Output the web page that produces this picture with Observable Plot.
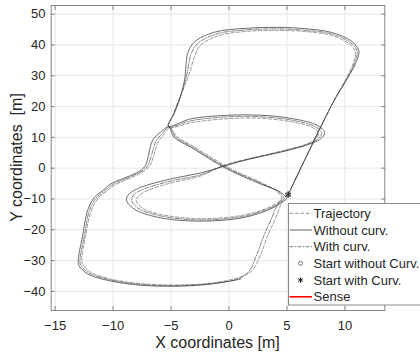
<!DOCTYPE html>
<html><head><meta charset="utf-8">
<script src="https://cdn.jsdelivr.net/npm/d3@7"></script>
<script src="https://cdn.jsdelivr.net/npm/@observablehq/plot@0.6"></script>
<style>
body{margin:0;background:#fff;}
svg{font-family:"Liberation Sans",Arial,sans-serif;}
</style>
</head><body><div id="chart"></div>
<script>
const xTicks = [-15, -10, -5, 0, 5, 10];
const yTicks = [-40, -30, -20, -10, 0, 10, 20, 30, 40, 50];
const xLimits = [-15.34, 13.44];
const yLimits = [-46.2, 52.8];
const xLabel = "X coordinates [m]";
const yLabel = "Y coordinates  [m]";
const legendLabels = ["Trajectory", "Without curv.", "With curv.", "Start without Curv.", "Start with Curv.", "Sense"];

// Without curv. (solid)
const noCurvX = [5.1, 9.0, 10.2, 10.9, 11.2, 10.5, 8.8, 6.5, 4.4, 1.5, -1.3, -3.0, -3.55, -3.7, -3.8, -4.2, -4.75, -5.25,
  -3.3, -0.45, 2.7, 5.6, 7.6, 8.25, 7.9, 7.0, 5.0, 1.3, -0.45, -2.5, -4.8, -7.6, -8.6, -8.85, -8.2, -6.2, -2.5, 1.3, 3.6, 4.6, 4.95, 4.45, 2.7, -0.2, -3.3, -4.75, -5.2,
  -5.9, -6.6, -6.95, -7.2, -7.6, -8.5, -10.2, -10.9, -11.6, -12.2, -12.65, -13.0, -12.95, -12.2, -10.5, -7.6, -4.2, -1.3, 1.0];
const noCurvY = [-8.6, 21.5, 29.0, 33.9, 38.2, 41.4, 44.1, 45.3, 45.7, 45.4, 44.1, 40.9, 37.5, 33.9, 29.5, 23.0, 17.6, 13.6,
  16.0, 17.1, 17.2, 16.0, 13.9, 11.6, 9.5, 7.9, 5.7, 2.5, 0.6, -1.6, -3.3, -6.2, -8.3, -10.3, -13.2, -15.9, -17.2, -16.0, -13.2, -11.0, -9.9, -7.8, -5.1, -0.2, 6.8, 10.1, 13.4,
  11.7, 9.0, 4.1, 0.9, -0.7, -2.4, -5.1, -7.3, -9.4, -13.7, -22.4, -29.4, -31.6, -34.3, -36.4, -38.0, -38.3, -37.5, -36.0];

// Trajectory (dashed)
const trajX = [5.1, 9.0, 10.1, 10.7, 10.9, 10.2, 8.6, 6.4, 4.4, 1.5, -1.0, -2.5, -3.0, -3.4, -3.8, -4.25, -4.8, -5.2,
  -3.2, -0.4, 2.7, 5.5, 7.2, 7.75, 7.4, 6.6, 4.8, 1.3, -0.5, -2.5, -4.8, -7.0, -7.8, -8.0, -7.5, -5.9, -2.5, 1.3, 3.4, 4.3, 4.55, 4.2, 2.9, 0.0, -3.0, -4.5, -5.1,
  -5.6, -6.1, -6.5, -6.8, -7.3, -8.2, -9.8, -10.6, -11.3, -11.9, -12.4, -12.7, -12.6, -11.9, -10.3, -7.5, -4.2, -1.3, 1.0, 2.0, 2.7, 3.4, 4.0, 4.4, 4.6];
const trajY = [-8.6, 21.5, 29.0, 33.9, 37.8, 40.8, 43.3, 44.4, 44.7, 44.4, 42.9, 39.7, 36.0, 31.0, 27.0, 23.0, 17.6, 13.3,
  14.8, 16.0, 16.2, 15.0, 13.2, 11.3, 9.4, 7.7, 5.8, 2.7, 0.9, -2.6, -4.6, -7.2, -9.0, -10.6, -12.9, -15.0, -16.4, -15.2, -12.8, -10.9, -10.0, -7.7, -4.9, 0.1, 6.9, 10.3, 13.2,
  11.0, 8.5, 4.0, 1.0, -0.9, -2.7, -5.4, -7.6, -9.8, -14.0, -22.4, -29.3, -31.3, -33.8, -35.9, -37.5, -37.9, -37.2, -35.3, -33.2, -28.3, -21.3, -16.5, -12.5, -10.5];

// With curv. (dash-dot)
const withCurvX = [5.1, 9.0, 10.15, 10.8, 11.05, 10.35, 8.7, 6.45, 4.4, 1.5, -1.15, -2.75, -3.3, -3.55, -3.8, -4.22, -4.78, -5.22,
  -3.25, -0.42, 2.7, 5.55, 7.4, 8.0, 7.65, 6.8, 4.9, 1.3, -0.47, -2.5, -4.8, -7.3, -8.2, -8.4, -7.85, -6.0, -2.5, 1.3, 3.5, 4.45, 4.75, 4.3, 2.8, -0.1, -3.15, -4.62, -5.15,
  -5.75, -6.3, -6.7, -7.0, -7.45, -8.35, -10.0, -10.75, -11.45, -12.05, -12.5, -12.85, -12.8, -12.05, -10.4, -7.55, -4.2, -1.3, 0.8, 1.7, 2.35, 3.05, 3.65, 4.1, 4.5];
const withCurvY = [-8.6, 21.5, 29.0, 33.9, 38.0, 41.1, 43.7, 44.8, 45.2, 44.9, 43.5, 40.3, 36.8, 32.0, 28.0, 23.0, 17.6, 13.45,
  15.4, 16.6, 16.7, 15.5, 13.5, 11.45, 9.45, 7.8, 5.75, 2.6, 0.75, -2.2, -4.0, -6.7, -8.6, -10.4, -13.0, -15.4, -16.8, -15.6, -13.0, -10.95, -9.95, -7.75, -5.0, -0.05, 6.85, 10.2, 13.4,
  11.3, 8.75, 4.05, 0.95, -0.8, -2.55, -5.25, -7.45, -9.6, -13.85, -22.4, -29.35, -31.45, -34.05, -36.15, -37.75, -38.1, -37.35, -35.9, -33.6, -28.5, -21.5, -16.5, -12.5, -10.3];

const startX = [5.1];
const startY = [-8.6];

const rows = (xs, ys) => xs.map((x, i) => ({x, y: ys[i]}));
const traj = rows(trajX, trajY);
const noCurv = rows(noCurvX, noCurvY);
const withCurv = rows(withCurvX, withCurvY);
const start = rows(startX, startY);

const font = '"Liberation Sans", Arial, sans-serif';
const chart = Plot.plot({
  width: 420, height: 358,
  marginLeft: 50.7, marginRight: 35.7, marginTop: 5, marginBottom: 48,
  style: {fontFamily: font, fontSize: "13px", color: "#262626", background: "#fff"},
  x: {domain: xLimits},
  y: {domain: yLimits},
  marks: [
    Plot.gridX(xTicks, {stroke: "#e6e6e6", strokeOpacity: 1}),
    Plot.gridY(yTicks, {stroke: "#e6e6e6", strokeOpacity: 1}),
    Plot.line(traj, {x: "x", y: "y", stroke: "#757575", strokeWidth: 0.75, strokeDasharray: "3.5,2", curve: "catmull-rom"}),
    Plot.line(withCurv, {x: "x", y: "y", stroke: "#555555", strokeWidth: 0.75, strokeDasharray: "4,1.5,1,1.5", curve: "catmull-rom"}),
    Plot.line(noCurv, {x: "x", y: "y", stroke: "#3c3c3c", strokeWidth: 0.75, curve: "catmull-rom"}),
    Plot.dot(start, {x: "x", y: "y", symbol: "circle", r: 2.2, stroke: "#555", strokeWidth: 0.8}),
    Plot.dot(start, {x: "x", y: "y", symbol: "asterisk", r: 3.2, stroke: "#222", strokeWidth: 1}),
    Plot.frame({stroke: "#858585"}),
    Plot.axisX(xTicks, {anchor: "bottom", tickSize: -4, tickPadding: 14.7, label: null, stroke: "#858585", fill: "#262626"}),
    Plot.axisX(xTicks, {anchor: "top", tickSize: -4, tickFormat: () => "", label: null, stroke: "#858585"}),
    Plot.axisY(yTicks, {anchor: "left", tickSize: -4, tickPadding: 9.7, label: null, stroke: "#858585", fill: "#262626"}),
    Plot.axisY(yTicks, {anchor: "right", tickSize: -4, tickFormat: () => "", label: null, stroke: "#858585"})
  ]
});
document.getElementById("chart").appendChild(chart);

const svg = d3.select(chart);
// axis titles
svg.append("text").attr("x", 217.5).attr("y", 348).attr("text-anchor", "middle")
  .attr("font-size", 16).attr("fill", "#262626").style("white-space", "pre").text(xLabel);
svg.append("text").attr("transform", "translate(22,157.5) rotate(-90)").attr("text-anchor", "middle")
  .attr("font-size", 16).attr("fill", "#262626").style("white-space", "pre").text(yLabel);

// legend
const lg = svg.append("g").attr("font-size", 13).attr("fill", "#262626").attr("text-anchor", "start");
lg.append("rect").attr("x", 288.5).attr("y", 203.5).attr("width", 140).attr("height", 101.5)
  .attr("fill", "#fff").attr("stroke", "#6e6e6e").attr("stroke-width", 0.8);
const rowY = i => 213.3 + i * 16.7;
const styles = [
  {stroke: "#757575", dash: "3.5,2", w: 0.8},
  {stroke: "#3c3c3c", dash: null, w: 0.8},
  {stroke: "#555555", dash: "4,1.5,1,1.5", w: 0.8},
  null, null,
  {stroke: "#ff0000", dash: null, w: 1.6}
];
legendLabels.forEach((lab, i) => {
  const y = rowY(i);
  const s = styles[i];
  if (s) {
    lg.append("line").attr("x1", 289.5).attr("x2", 312).attr("y1", y).attr("y2", y)
      .attr("stroke", s.stroke).attr("stroke-width", s.w).attr("stroke-dasharray", s.dash);
  } else if (i === 3) {
    lg.append("circle").attr("cx", 300.5).attr("cy", y).attr("r", 2).attr("fill", "none")
      .attr("stroke", "#555").attr("stroke-width", 0.8);
  } else {
    lg.append("path").attr("transform", `translate(300.5,${y})`)
      .attr("d", d3.symbol(d3.symbolAsterisk, 22)()).attr("fill", "none")
      .attr("stroke", "#222").attr("stroke-width", 1);
  }
  lg.append("text").attr("x", 313.5).attr("y", y).attr("dy", "0.35em").attr("text-anchor", "start").text(lab);
});
</script>
</body></html>
